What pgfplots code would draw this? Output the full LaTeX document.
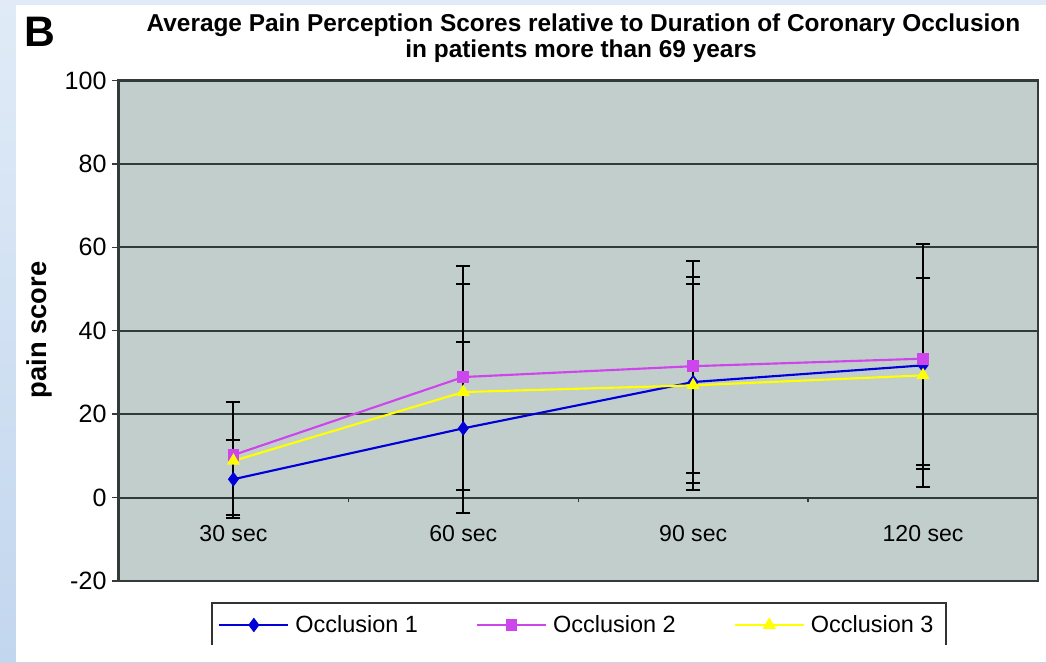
\documentclass[border=0pt]{standalone}
\usepackage{fontspec}
\setmainfont{Liberation Sans}
\usepackage{pgfplots}
\pgfplotsset{compat=1.18}
\usepackage{pgfplotstable}

\definecolor{plotbg}{RGB}{194,206,204}
\definecolor{gridc}{RGB}{50,58,58}
\definecolor{occA}{RGB}{0,0,215}
\definecolor{occB}{RGB}{205,70,235}
\definecolor{occC}{RGB}{255,255,0}
\definecolor{slideA}{RGB}{224,235,247}
\definecolor{slideB}{RGB}{194,214,238}

% mean, error above, error below
\pgfplotstableread{
x y ep em
0 4.4 9.4 9.4
1 16.6 20.7 20.4
2 27.7 25.1 24.3
3 31.7 29.1 29.2
}\occone
\pgfplotstableread{
x y ep em
0 10.2 12.7 14.4
1 28.9 26.7 27.1
2 31.5 25.1 25.5
3 33.3 27.5 26.5
}\occtwo
\pgfplotstableread{
x y ep em
0 8.8 14.1 13.8
1 25.3 25.9 23.5
2 26.9 24.2 25.1
3 29.3 23.4 21.5
}\occthree

\begin{document}
\begin{tikzpicture}[x=0.75pt,y=0.75pt]
% page background
\useasboundingbox (0,0) rectangle (1046,662);
\clip (0,0) rectangle (1046,662);
\shade[top color=slideA, bottom color=slideB] (0,0) rectangle (1046,662);
\fill[white] (16,0) rectangle (1046,657);

% panel letter and title
\node[anchor=base west, inner sep=0pt, font=\fontsize{32pt}{34pt}\selectfont\bfseries] at (24,615) {B};
\node[anchor=base, inner sep=0pt, font=\fontsize{18.3pt}{20pt}\selectfont\bfseries] at (583.5,630.3)
  {Average Pain Perception Scores relative to Duration of Coronary Occlusion};
\node[anchor=base, inner sep=0pt, font=\fontsize{18.3pt}{20pt}\selectfont\bfseries] at (581,604)
  {in patients more than 69 years};
\node[rotate=90, anchor=center, inner sep=0pt, font=\fontsize{20.5pt}{22pt}\selectfont\bfseries] at (39,332)
  {pain score};

\begin{axis}[
  at={(88.875pt,60.75pt)}, anchor=south west,
  scale only axis, width=689.6pt, height=375.4pt,
  xmin=-0.5, xmax=3.5, ymin=-20, ymax=100,
  ytick={-20,0,20,40,60,80,100},
  xtick={0,1,2,3},
  xticklabels={30 sec,60 sec,90 sec,120 sec},
  axis background/.style={fill=plotbg},
  axis line style={gridc, line width=1.8pt},
  ymajorgrids,
  grid style={gridc, line width=1.4pt},
  tick align=outside,
  tick pos=left,
  major tick length=4.5pt,
  ytick style={gridc, line width=1pt},
  xtick style={draw=none},
  /pgf/number format/assume math mode=true,
  y tick label style={font=\fontsize{18.8pt}{20pt}\selectfont, xshift=-1pt},
  x tick label style={font=\fontsize{17.3pt}{19pt}\selectfont, anchor=center, yshift=39.75pt},
  clip=false,
  legend columns=3,
  legend style={draw=none, fill=none, inner sep=0pt,
    at={(axis description cs:0.1082,-0.0879)}, anchor=west,
    font=\fontsize{17.6pt}{19pt}\selectfont,
    nodes={inner xsep=0pt, inner ysep=1pt},
    cells={anchor=west},
    /tikz/every odd column/.append style={column sep=4.5pt},
    /tikz/every even column/.append style={column sep=43.5pt}},
  legend image code/.code={
    \draw[mark repeat=2, mark phase=2] plot coordinates {(0pt,0pt) (25.9pt,0pt) (51.75pt,0pt)};},
  error bars/error bar style={black, line width=1.5pt},
  error bars/error mark options={black, rotate=90, mark size=5.25pt, line width=1.5pt},
]
\addplot[occA, line width=1.6pt, mark=diamond*, mark size=4.2pt,
  error bars/.cd, y dir=both, y explicit]
  table[x=x, y=y, y error plus=ep, y error minus=em] {\occone};
\addlegendentry{Occlusion 1}
\addplot[occB, line width=1.6pt, mark=square*, mark size=3.6pt,
  error bars/.cd, y dir=both, y explicit]
  table[x=x, y=y, y error plus=ep, y error minus=em] {\occtwo};
\addlegendentry{Occlusion 2}
\addplot[occC, line width=1.6pt, mark=triangle*, mark size=4.2pt,
  error bars/.cd, y dir=both, y explicit]
  table[x=x, y=y, y error plus=ep, y error minus=em] {\occthree};
\addlegendentry{Occlusion 3}

% category separators on the zero line
\pgfplotsinvokeforeach{0.5,1.5,2.5}{
  \draw[gridc, line width=1pt] (axis cs:#1,0) -- (axis cs:#1,-1.1);
}
\end{axis}

% legend frame, open at the bottom
\draw[black!80, line width=1.5pt] (212,17) -- (212,59) -- (945.7,59) -- (945.7,17);
\end{tikzpicture}
\end{document}
